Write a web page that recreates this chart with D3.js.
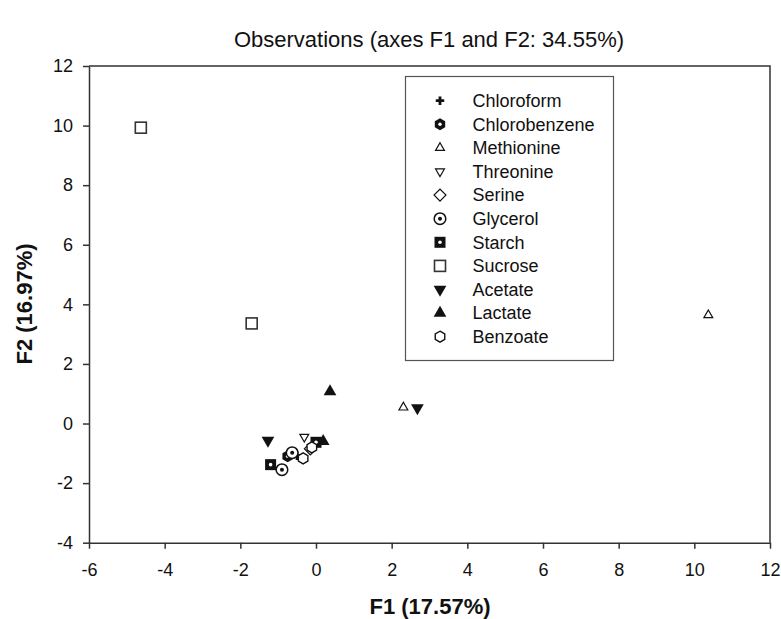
<!DOCTYPE html>
<html>
<head>
<meta charset="utf-8">
<script src="https://cdn.jsdelivr.net/npm/d3@7"></script>
<style>
    body { margin: 0; background: #fff; }
    svg { display: block; font-family: "Liberation Sans", Arial, sans-serif; }
    .axis path, .axis line { stroke: #333; stroke-width: 1.5; }
    .axis text { font-size: 18px; fill: #111; }
</style>
</head>
<body>
<svg id="chart"></svg>
<script>
// Observations and their PCA scores
const names = ['Chloroform', 'Chlorobenzene', 'Methionine', 'Threonine', 'Serine', 'Glycerol',
    'Starch', 'Sucrose', 'Acetate', 'Lactate', 'Benzoate'];
const f1Values = [[-0.5], [-0.75], [10.37, 2.31], [-0.31], [-0.15], [-0.9, -0.63],
    [-1.2, 0.0], [-4.63, -1.7], [-1.27, 2.68], [0.37, 0.19], [-0.34, -0.11]];
const f2Values = [[-1.08], [-1.1], [3.64, 0.54], [-0.45], [-0.85], [-1.55, -0.98],
    [-1.38, -0.63], [9.93, 3.36], [-0.57, 0.52], [1.07, -0.6], [-1.17, -0.8]];
const xTicks = [-6, -4, -2, 0, 2, 4, 6, 8, 10, 12];
const yTicks = [-4, -2, 0, 2, 4, 6, 8, 10, 12];

// Marker type for each observation
const markerType = ['plus', 'hexFilled', 'triUp', 'triDown', 'diamond', 'circleDot',
    'squareFilled', 'square', 'triDownFilled', 'triUpFilled', 'hexOpen'];

const width = 781;
const height = 619;

const svg = d3.select('#chart')
    .attr('width', width)
    .attr('height', height);

const x = d3.scaleLinear().domain([-6, 12]).range([89, 770]);
const y = d3.scaleLinear().domain([-4, 12]).range([542.7, 66]);

// Title
svg.append('text')
    .attr('x', 429)
    .attr('y', 47)
    .attr('text-anchor', 'middle')
    .style('font-size', '22px')
    .attr('fill', '#111')
    .text('Observations (axes F1 and F2: 34.55%)');

// Frame (top and right)
svg.append('path')
    .attr('d', `M${x(-6)},${y(12)}H${x(12)}V${y(-4)}`)
    .attr('fill', 'none')
    .attr('stroke', '#333')
    .attr('stroke-width', 1.5);

// Axes
svg.append('g')
    .attr('class', 'axis')
    .attr('transform', `translate(0,${y(-4)})`)
    .call(d3.axisBottom(x).tickValues(xTicks).tickFormat(d => String(d))
        .tickSize(6).tickPadding(15).tickSizeOuter(0));

svg.append('g')
    .attr('class', 'axis')
    .attr('transform', `translate(${x(-6)},0)`)
    .call(d3.axisLeft(y).tickValues(yTicks).tickFormat(d => String(d))
        .tickSize(6).tickPadding(10).tickSizeOuter(0));

svg.selectAll('.axis text').attr('font-family', null).attr('font-size', null);

// Axis titles
svg.append('text')
    .attr('x', 430)
    .attr('y', 614)
    .attr('text-anchor', 'middle')
    .style('font-size', '22px')
    .style('font-weight', 'bold')
    .attr('fill', '#111')
    .text('F1 (17.57%)');

svg.append('text')
    .attr('transform', 'translate(24,304) rotate(-90)')
    .attr('dy', '0.35em')
    .attr('text-anchor', 'middle')
    .style('font-size', '22px')
    .style('font-weight', 'bold')
    .attr('fill', '#111')
    .text('F2 (16.97%)');

// Hexagon path helper
function hexagon(r) {
    const pts = d3.range(6).map(i => {
        const a = Math.PI / 3 * i - Math.PI / 2;
        return [r * Math.cos(a), r * Math.sin(a)];
    });
    return 'M' + pts.join('L') + 'Z';
}

// Draw one marker into a group centred at 0,0
function drawMarker(g, type) {
    const ink = '#111';
    if (type === 'plus') {
        g.append('path').attr('d', d3.symbol(d3.symbolCross, 40)())
            .attr('fill', ink);
    } else if (type === 'hexFilled') {
        g.append('path').attr('d', hexagon(6)).attr('fill', ink);
        g.append('circle').attr('r', 1.7).attr('fill', '#fff');
    } else if (type === 'hexOpen') {
        g.append('path').attr('d', hexagon(5.5)).attr('fill', '#fff')
            .attr('stroke', ink).attr('stroke-width', 1.4);
    } else if (type === 'triUp' || type === 'triDown') {
        g.append('path').attr('d', d3.symbol(d3.symbolTriangle, 34)())
            .attr('transform', type === 'triDown' ? 'rotate(180)' : null)
            .attr('fill', '#fff').attr('stroke', ink).attr('stroke-width', 1.2);
    } else if (type === 'triUpFilled' || type === 'triDownFilled') {
        g.append('path').attr('d', d3.symbol(d3.symbolTriangle, 70)())
            .attr('transform', type === 'triDownFilled' ? 'rotate(180)' : null)
            .attr('fill', ink);
    } else if (type === 'diamond') {
        g.append('rect').attr('x', -4.2).attr('y', -4.2).attr('width', 8.4).attr('height', 8.4)
            .attr('transform', 'rotate(45)')
            .attr('fill', '#fff').attr('stroke', ink).attr('stroke-width', 1.2);
    } else if (type === 'circleDot') {
        g.append('circle').attr('r', 5.8).attr('fill', '#fff')
            .attr('stroke', ink).attr('stroke-width', 1.5);
        g.append('circle').attr('r', 2).attr('fill', ink);
    } else if (type === 'squareFilled') {
        g.append('rect').attr('x', -5.5).attr('y', -5.5).attr('width', 11).attr('height', 11)
            .attr('fill', ink);
        g.append('circle').attr('r', 1.8).attr('fill', '#fff');
    } else if (type === 'square') {
        g.append('rect').attr('x', -5.5).attr('y', -5.5).attr('width', 11).attr('height', 11)
            .attr('fill', '#fff').attr('stroke', '#333').attr('stroke-width', 1.6);
    }
}

// Points
const points = [];
names.forEach((name, i) => {
    f1Values[i].forEach((v, j) => {
        points.push({ name: name, type: markerType[i], f1: v, f2: f2Values[i][j] });
    });
});

svg.append('g')
    .selectAll('g')
    .data(points)
    .join('g')
    .attr('transform', d => `translate(${x(d.f1)},${y(d.f2)})`)
    .each(function(d) { drawMarker(d3.select(this), d.type); });

// Legend
const legend = svg.append('g');

legend.append('rect')
    .attr('x', 405.5)
    .attr('y', 76.5)
    .attr('width', 208)
    .attr('height', 284)
    .attr('fill', '#fff')
    .attr('stroke', '#555')
    .attr('stroke-width', 1.2);

const rows = legend.selectAll('g.row')
    .data(names)
    .join('g')
    .attr('class', 'row')
    .attr('transform', (d, i) => `translate(440,${100.7 + i * 23.6})`);

rows.append('g').each(function(d, i) { drawMarker(d3.select(this), markerType[i]); });

rows.append('text')
    .attr('x', 32.5)
    .attr('dy', '0.35em')
    .style('font-size', '18px')
    .attr('fill', '#111')
    .text(d => d);
</script>
</body>
</html>
